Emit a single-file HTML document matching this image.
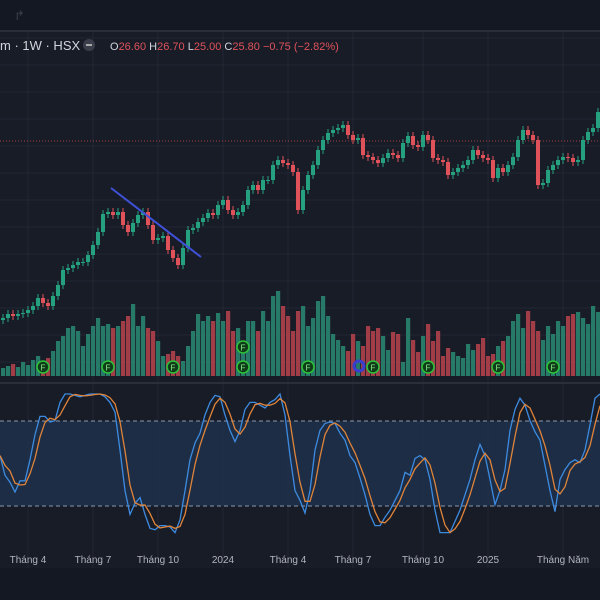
<!DOCTYPE html>
<html><head><meta charset="utf-8"><style>
html,body{margin:0;padding:0;background:#161a25;}
svg{display:block;font-family:"Liberation Sans","Noto Sans CJK SC",sans-serif;}
</style></head><body>
<svg id="chart" width="600" height="600" viewBox="0 0 600 600" xmlns="http://www.w3.org/2000/svg">
<rect x="0" y="0" width="600" height="600" fill="#181c27"/>
<rect x="0" y="0" width="600" height="30" fill="#141823"/>
<text x="14" y="20" fill="#3a3f4b" font-size="13">↱</text>
<rect x="0" y="30" width="600" height="2" fill="#2a2e39"/>
<g id="grid"></g>
<rect x="0" y="421" width="600" height="85" fill="#1f3350" opacity="0.75"/>
<line x1="0" y1="421" x2="600" y2="421" stroke="#8a97ad" stroke-dasharray="4,3"/>
<line x1="0" y1="506" x2="600" y2="506" stroke="#8a97ad" stroke-dasharray="4,3"/>
<line x1="0" y1="141" x2="600" y2="141" stroke="#e0525a" stroke-dasharray="1,2" opacity="0.7"/>
<g id="vol"></g>
<g id="candles"></g>
<g id="stoch"></g>
<line x1="111" y1="188" x2="201" y2="257" stroke="#3f51d8" stroke-width="2"/>
<g id="markers"></g>
<rect x="0" y="568" width="600" height="32" fill="#141823"/>
<g id="xaxis"></g>
<g font-size="12">
<text x="0" y="50" fill="#d1d4dc" font-size="13">m · 1W · HSX</text>
<circle cx="89" cy="45" r="6" fill="#3a3e4a"/>
<rect x="86" y="44" width="6" height="2" fill="#aaa"/>
<text x="110" y="50" font-size="11"><tspan fill="#d1d4dc">O</tspan><tspan fill="#e0525a">26.60 </tspan><tspan fill="#d1d4dc">H</tspan><tspan fill="#e0525a">26.70 </tspan><tspan fill="#d1d4dc">L</tspan><tspan fill="#e0525a">25.00 </tspan><tspan fill="#d1d4dc">C</tspan><tspan fill="#e0525a">25.80  −0.75 (−2.82%)</tspan></text>
</g>
</svg>
<script>
const closes=[8.2,8.6,8.4,8.6,8.7,9,9.4,10.2,9.7,9.4,10.4,11.5,13,13.2,13.5,13.8,13.8,14.5,15.5,16.8,18.6,18.8,18.5,18.8,17.5,16.8,17.7,18.5,18.8,17.5,16,16.2,16.4,15,14.2,13.5,15.2,17,17.2,17.8,18.2,18.7,18.5,19.5,20,19,18.5,18.8,19.5,21,21.5,21,22,22,23.5,24,23.7,23.5,22.8,19,21,22.5,23.5,25,26,26.7,27,27.2,27.5,26.5,26,26.2,24.5,24.3,24,23.7,24.2,24.7,24.5,24.2,25.7,26.4,25.5,25.3,26.5,26,24.2,24,23.8,22.5,22.8,23.2,23.5,24,25,24.5,24.2,24,22.2,23.2,22.8,23.5,24.3,26,27,26.5,26,21.5,21.7,23,23.5,24,24.3,24.2,23.8,24,26,26.8,27.2,28.8];
const volumes=[8,10,12,9,14,11,16,20,15,18,25,35,40,48,50,45,30,42,50,58,50,52,48,50,55,60,72,50,60,48,45,35,20,22,25,20,15,30,45,62,55,60,55,63,55,65,45,48,35,55,55,45,65,55,80,85,70,60,45,65,70,50,58,75,80,60,42,36,30,25,42,35,30,50,45,48,40,26,44,42,14,58,36,24,40,52,35,45,20,28,24,20,18,32,26,32,38,20,22,30,35,40,55,62,48,65,55,45,36,50,42,55,50,60,62,64,58,52,70,64];
const stochK=[56,42,37,30,38,38,53,71,84,84,80,81,94,100,100,99,98,99,100,100,100,98,94,87,60,31,14,22,26,14,4,3,6,6,5,1,10,31,53,65,72,85,94,99,98,85,74,66,74,89,94,94,92,90,94,96,100,85,56,31,24,15,31,60,74,79,80,79,72,67,56,51,40,28,14,6,6,12,17,24,31,44,42,54,56,53,39,17,1,1,1,9,17,28,39,53,64,56,39,21,31,46,74,89,97,92,81,73,67,49,31,16,39,46,51,53,51,60,78,97,100];
const xLabels=["Tháng 4","Tháng 7","Tháng 10","2024","Tháng 4","Tháng 7","Tháng 10","2025","Tháng Năm"];
const xLabelIdx=[5,18,31,44,57,70,84,97,112];
const markerIdx=[8,21,34,48,61,74,85,99,110];
const NS="http://www.w3.org/2000/svg";
function mk(t,a,p){const e=document.createElementNS(NS,t);for(const k in a)e.setAttribute(k,a[k]);p.appendChild(e);return e;}
const step=5, x0=3;
function xC(i){return x0+i*step;}
function yP(p){return 400-p*10;}
function yV(v){return 376-v;}
function yS(v){return 534-v*1.4;}
function xS(i){return i*5;}
const G=document.getElementById('grid');
for(let y=38;y<380;y+=27){const l=mk('line',{x1:0,y1:y,x2:600,y2:y,stroke:'#222633'},G);

}
xLabelIdx.forEach(i=>{const l=mk('line',{x1:xC(i),y1:32,x2:xC(i),y2:568,stroke:'#222633'},G);

});
mk('line',{x1:0,y1:383,x2:600,y2:383,stroke:'#2a2e39','stroke-width':2},G);
const C=document.getElementById('candles'),V=document.getElementById('vol');
closes.forEach((c,i)=>{
 const o=i>0?closes[i-1]:c-0.2;
 const up=c>=o;const col=up?'#26a17f':'#e0525a';
 const hi=Math.max(o,c)+0.4, lo=Math.min(o,c)-0.4;
 const x=xC(i);
 const w=mk('line',{x1:x,y1:yP(hi),x2:x,y2:yP(lo),stroke:col,'stroke-width':1},C);
 
 
 const top=yP(Math.max(o,c)),bot=yP(Math.min(o,c));
 const b=mk('rect',{x:x-2,y:top,width:4,height:Math.max(1,bot-top),fill:col},C);
 
 
 const vb=mk('rect',{x:x-2,y:yV(volumes[i]),width:4.2,height:volumes[i],fill:up?'#2a8b73':'#b8434d',opacity:0.85},V);
 
 
});
const S=document.getElementById('stoch');
const stochD=stochK.map((v,i)=>{const a=stochK.slice(Math.max(0,i-2),i+1);return a.reduce((s,q)=>s+q,0)/a.length;});
const kp=mk('polyline',{points:stochK.map((v,i)=>xS(i)+','+yS(v)).join(' '),fill:'none',stroke:'#3d8be0','stroke-width':1.3},S);


const dp=mk('polyline',{points:stochD.map((v,i)=>xS(i)+','+yS(v)).join(' '),fill:'none',stroke:'#e0843a','stroke-width':1.3},S);


const X=document.getElementById('xaxis');
xLabels.forEach((t,i)=>{const e=mk('text',{x:xC(xLabelIdx[i]),y:563,fill:'#b2b5be','font-size':10,'text-anchor':'middle'},X);e.textContent=t;

});
const M=document.getElementById('markers');
markerIdx.forEach(i=>{const x=xC(i);
 const c=mk('circle',{cx:x,cy:367,r:6,fill:'#0f3d1a',stroke:'#2ec43a','stroke-width':1.5},M);
 
 
 const t=mk('text',{x:x,y:370.5,fill:'#8ef08a','font-size':8,'text-anchor':'middle'},M);t.textContent='F';
 
 
});
const c2=mk('circle',{cx:xC(48),cy:347,r:6,fill:'#0f3d1a',stroke:'#2ec43a','stroke-width':1.5},M);


const t2=mk('text',{x:xC(48),y:350.5,fill:'#8ef08a','font-size':8,'text-anchor':'middle'},M);t2.textContent='F';


const dv=mk('circle',{cx:359,cy:366,r:5,fill:'none',stroke:'#3b3fd0','stroke-width':3},M);


</script>
</body></html>
